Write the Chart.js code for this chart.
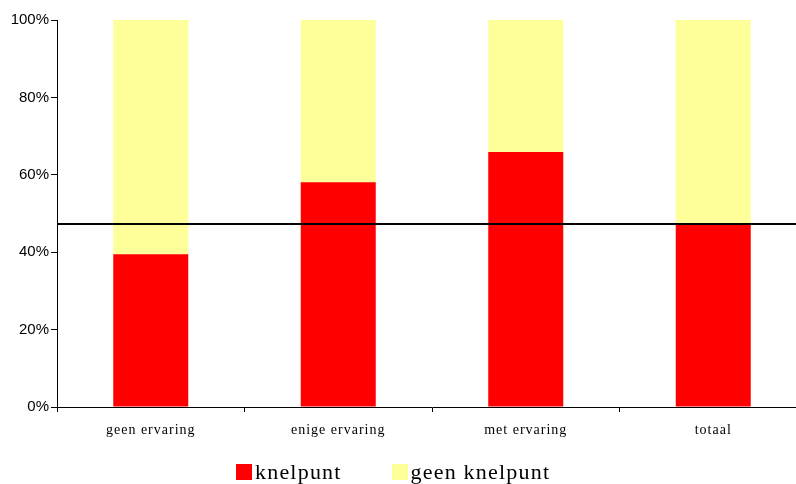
<!DOCTYPE html>
<html>
<head>
<meta charset="utf-8">
<script src="https://cdn.jsdelivr.net/npm/chart.js@4/dist/chart.umd.min.js"></script>
<style>
  html, body { margin: 0; padding: 0; background: #fff; }
  .chart__container { position: relative; width: 796px; height: 484px; overflow: hidden; }
  .legend { position: absolute; top: 459px; left: 236px; display: flex; align-items: center;
    font-family: "Liberation Serif", "DejaVu Serif", serif; font-size: 22px; letter-spacing: 1.2px; color: #000; }
  .legend span.box { display: inline-block; width: 16px; height: 16px; margin-right: 3px; }
  .legend .item { display: flex; align-items: center; margin-right: 50px; }
</style>
</head>
<body>
<div class="chart__container">
  <!-- the original plot runs a little past the right edge, so the canvas is wider than the frame -->
  <canvas id="my-chart" width="807" height="484"></canvas>
  <div class="legend" id="legend"></div>
</div>
<script>
const categories = ['geen ervaring', 'enige ervaring', 'met ervaring', 'totaal'];
const knelpunt = [39.5, 58.1, 65.9, 47.4];
const geenKnelpunt = [60.5, 41.9, 34.1, 52.6];
const referenceLine = [47.3];
const yTicks = [0, 20, 40, 60, 80, 100];

const seriesColors = ['#ff0000', '#ffff99'];

const refLinePlugin = {
  id: 'refLine',
  beforeDraw(chart) {
    // spaced-out serif category labels, like the original
    const xScale = chart.scales.x;
    if (!xScale._spaced) {
      const orig = xScale.drawLabels.bind(xScale);
      xScale.drawLabels = (area) => {
        chart.ctx.save();
        chart.ctx.letterSpacing = '1px';
        orig(area);
        chart.ctx.restore();
      };
      xScale._spaced = true;
    }
  },
  // horizontal reference line across the plot, placed through the y scale
  afterDatasetsDraw(chart) {
    const { ctx, chartArea, scales } = chart;
    const y = scales.y.getPixelForValue(referenceLine[0]);
    ctx.save();
    ctx.strokeStyle = '#000';
    ctx.lineWidth = 2;
    ctx.beginPath();
    ctx.moveTo(chartArea.left, y);
    ctx.lineTo(chartArea.right, y);
    ctx.stroke();
    ctx.restore();
  },
};

const data = {
  labels: categories,
  datasets: [
    {
      label: 'knelpunt',
      data: knelpunt,
      backgroundColor: seriesColors[0],
      borderWidth: 0,
      categoryPercentage: 1,
      barPercentage: 0.4,
    },
    {
      label: 'geen knelpunt',
      data: geenKnelpunt,
      backgroundColor: seriesColors[1],
      borderWidth: 0,
      categoryPercentage: 1,
      barPercentage: 0.4,
    },
  ],
};

const options = {
  responsive: false,
  animation: false,
  layout: { padding: { top: 20, right: 0, bottom: 37, left: 0 } },
  plugins: {
    legend: { display: false },
    tooltip: { enabled: false },
  },
  scales: {
    x: {
      stacked: true,
      border: { color: '#000', width: 1 },
      grid: { display: true, drawOnChartArea: false, color: '#000', tickLength: 5, offset: true },
      ticks: {
        color: '#000',
        padding: 10,
        font: { family: '"Liberation Serif", "DejaVu Serif", serif', size: 14 },
      },
      afterFit(scale) { scale.height = 40; },
    },
    y: {
      stacked: true,
      min: 0,
      max: 100,
      border: { color: '#000', width: 1 },
      grid: { display: true, drawOnChartArea: false, color: '#000', tickLength: 6 },
      afterBuildTicks(scale) { scale.ticks = yTicks.map(v => ({ value: v })); },
      ticks: {
        color: '#000',
        padding: 2,
        font: { family: '"Liberation Sans", Arial, sans-serif', size: 15 },
        callback: v => v + '%',
      },
      afterFit(scale) { scale.width = 57; },
    },
  },
};

const chartRef = document.getElementById('my-chart');
chartRef.getContext('2d');
const chart = new Chart(chartRef, { type: 'bar', data, options, plugins: [refLinePlugin] });
chart.draw();

const legendEl = document.getElementById('legend');
data.datasets.forEach(ds => {
  const item = document.createElement('div');
  item.className = 'item';
  const box = document.createElement('span');
  box.className = 'box';
  box.style.background = ds.backgroundColor;
  item.appendChild(box);
  item.appendChild(document.createTextNode(ds.label));
  legendEl.appendChild(item);
});
</script>
</body>
</html>
